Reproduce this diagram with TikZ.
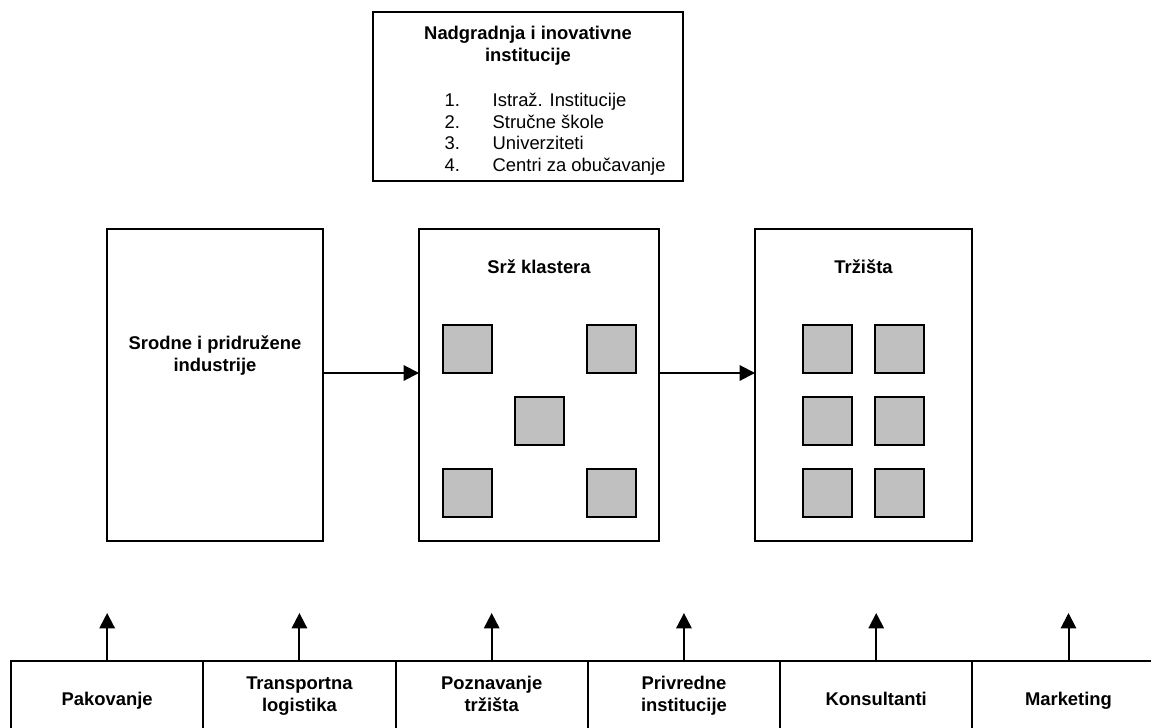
\documentclass[tikz,border=0pt]{standalone}
\usepackage{fontspec}
\setmainfont{Liberation Sans}
\usetikzlibrary{arrows.meta,positioning}

\definecolor{cellgray}{HTML}{C0C0C0}

\tikzset{
  frame/.style={draw, line width=1.5pt, outer sep=0pt, inner sep=0pt},
  bigbox/.style={frame, minimum height=234pt},
  lowbox/.style={frame, minimum width=144.2pt, minimum height=63pt},
  cell/.style={frame, fill=cellgray, minimum width=36.5pt, minimum height=36pt},
  heading/.style={font=\bfseries\fontsize{13.8}{16.5}\selectfont, align=center, anchor=base},
  flow/.style={line width=1.5pt, -{Triangle[length=11.5pt, width=11.5pt]}}
}

\begin{document}
\begin{tikzpicture}[x=0.75pt, y=-0.75pt]
            \useasboundingbox (0,0) rectangle (1151,727);

            % upper box
            \node[frame, minimum width=232.5pt, minimum height=126.75pt] (inst) at (528,96.5) {};
            \node[heading] at (528,61.6) {Nadgradnja i inovativne\\institucije};
            \node[font=\fontsize{13.8}{16.25}\selectfont, align=left, anchor=base west] (instlist) at (440,171.6)
              {\makebox[36pt][l]{1.}Istraž. Institucije\\
               \makebox[36pt][l]{2.}Stručne škole\\
               \makebox[36pt][l]{3.}Univerziteti\\
               \makebox[36pt][l]{4.}Centri za obučavanje};

            % middle row
            \node[bigbox, minimum width=162pt] (rel) at (215,385) {};
            \node[bigbox, minimum width=180pt] (core) at (539,385) {};
            \node[bigbox, minimum width=162.75pt] (mkt) at (863.5,385) {};

            \node[heading] at (215,371.6) {Srodne i pridružene\\industrije};
            \node[heading] at (539,273.6) {Srž klastera};
            \node[heading] at (863.5,273.6) {Tržišta};

            \foreach \x/\y [count=\i] in {467.5/349, 611.5/349, 539.5/421, 467.5/492.5, 611.5/492.5}
              \node[cell] (core\i) at (\x,\y) {};
            \foreach \x [count=\i] in {827.5, 899.5}
              \foreach \y [count=\j] in {349, 421, 492.5}
                \node[cell] (mkt\i\j) at (\x,\y) {};

            \draw[flow] ([yshift=9pt]rel.east) -- ([yshift=9pt]core.west);
            \draw[flow] ([yshift=9pt]core.east) -- ([yshift=9pt]mkt.west);

            % lower row
            \node[lowbox] (pak) at (107.15,703) {};
            \node[lowbox, right=0pt of pak] (trans) {};
            \node[lowbox, right=0pt of trans] (know) {};
            \node[lowbox, right=0pt of know] (chamb) {};
            \node[lowbox, right=0pt of chamb] (cons) {};
            \node[lowbox, right=0pt of cons] (mark) {};

            \node[heading] at (pak |- 0,705.6) {Pakovanje};
            \node[heading] at (trans |- 0,711.6) {Transportna\\logistika};
            \node[heading] at (know |- 0,711.6) {Poznavanje\\tržišta};
            \node[heading] at (chamb |- 0,711.6) {Privredne\\institucije};
            \node[heading] at (cons |- 0,705.6) {Konsultanti};
            \node[heading] at (mark |- 0,705.6) {Marketing};

            \foreach \b in {pak, trans, know, chamb, cons, mark}
              \draw[flow] (\b.north) -- ([yshift=36pt]\b.north);
        \end{tikzpicture}
\end{document}
